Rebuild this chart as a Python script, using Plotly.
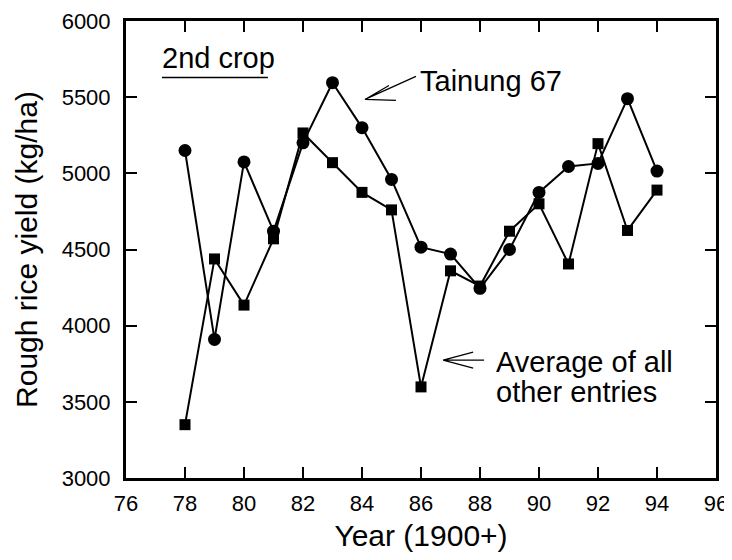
import plotly.graph_objects as go

years = [78, 79, 80, 81, 82, 83, 84, 85, 86, 87, 88, 89, 90, 91, 92, 93, 94]
tainung67 = [5150, 3910, 5075, 4620, 5200, 5595, 5300, 4960, 4515, 4470, 4245, 4500, 4875, 5045, 5065, 5490, 5015]
avg_others = [3350, 4438, 4135, 4570, 5265, 5070, 4875, 4760, 3598, 4360, 4260, 4620, 4800, 4405, 5195, 4625, 4890]

x_ticks = [76, 78, 80, 82, 84, 86, 88, 90, 92, 94, 96]
y_ticks = [3000, 3500, 4000, 4500, 5000, 5500, 6000]

FONT = "Arial, Liberation Sans, Helvetica, sans-serif"

fig = go.Figure()
fig.add_trace(go.Scatter(
    x=years, y=avg_others, mode="lines+markers",
    line=dict(color="black", width=2),
    marker=dict(symbol="square", size=11, color="black"),
    showlegend=False, name="Average of all other entries"))
fig.add_trace(go.Scatter(
    x=years, y=tainung67, mode="lines+markers",
    line=dict(color="black", width=2),
    marker=dict(symbol="circle", size=13, color="black"),
    showlegend=False, name="Tainung 67"))

axis_common = dict(
    showline=True, linecolor="black", linewidth=3, mirror="ticks",
    ticks="inside", ticklen=11, tickwidth=2, tickcolor="black",
    showgrid=False, zeroline=False, automargin=False,
    ticklabeloverflow="allow",
    tickfont=dict(family=FONT, size=22, color="black"),
)

fig.update_xaxes(range=[76, 96], tickvals=x_ticks, ticktext=[str(v) for v in x_ticks],
                 title=dict(text="Year (1900+)", font=dict(family=FONT, size=30, color="black"), standoff=10),
                 ticklabelstandoff=4, **axis_common)
fig.update_yaxes(range=[3000, 6000], tickvals=y_ticks, ticktext=[str(v) for v in y_ticks],
                 title=dict(text="Rough rice yield (kg/ha)", font=dict(family=FONT, size=30, color="black"), standoff=16),
                 ticklabelstandoff=8, **axis_common)

# Text labels
fig.add_annotation(x=77.15, y=5760, xref="x", yref="y", text="2nd crop", showarrow=False,
                   font=dict(family=FONT, size=29, color="black"), xanchor="left", yanchor="middle")
fig.add_shape(type="line", xref="x", yref="y", x0=77.22, x1=80.81, y0=5629, y1=5629,
              line=dict(color="black", width=1.5))

fig.add_annotation(x=85.9, y=5609, xref="x", yref="y", text="Tainung 67", showarrow=False,
                   font=dict(family=FONT, size=29, color="black"), xanchor="left", yanchor="middle")
fig.add_shape(type="path", xref="x", yref="y", xsizemode="pixel", ysizemode="pixel",
              xanchor=84.1, yanchor=5485,
              path="M0,0 L51,23 M0,0 L24,14 M0,0 L31,-1",
              line=dict(color="black", width=1.3))

fig.add_annotation(x=88.47, y=3761, xref="x", yref="y", text="Average of all",
                   showarrow=False, font=dict(family=FONT, size=29, color="black"),
                   xanchor="left", yanchor="middle")
fig.add_annotation(x=88.47, y=3566, xref="x", yref="y", text="other entries",
                   showarrow=False, font=dict(family=FONT, size=29, color="black"),
                   xanchor="left", yanchor="middle")
fig.add_shape(type="path", xref="x", yref="y", xsizemode="pixel", ysizemode="pixel",
              xanchor=86.75, yanchor=3774,
              path="M0,0 L41,0 M0,0 L30,8 M0,0 L30,-8",
              line=dict(color="black", width=1.3))

# The page body adds an 8px margin, so the figure is sized to fit the 732x560 window.
fig.update_layout(
    width=724, height=552,
    margin=dict(l=118, r=16, t=13, b=82),
    paper_bgcolor="white", plot_bgcolor="white",
    font=dict(family=FONT, color="black"),
)

fig.write_html("out.html")
